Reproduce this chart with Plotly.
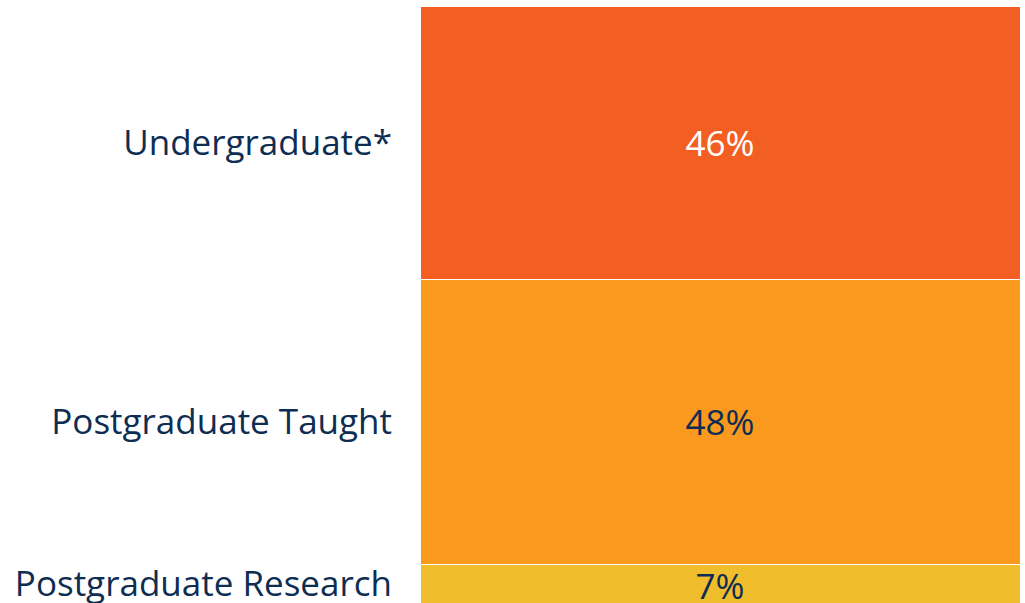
import plotly.graph_objects as go

categories = ["Postgraduate Research", "Postgraduate Taught", "Undergraduate*"]
values = [7, 48, 46]
colors = ["#F0BE2C", "#F99A1E", "#F35F23"]
text_colors = ["#0E2D52", "#0E2D52", "#FFFFFF"]

navy = "#0E2D52"
font_family = "Open Sans"
fsize = 35
y_range = [0.5, 101]

fig = go.Figure()
starts = []
acc = 0
for cat, v, c, tc in zip(categories, values, colors, text_colors):
    starts.append(acc)
    fig.add_trace(go.Bar(
        x=["all"], y=[v], name=cat,
        marker=dict(color=c, line=dict(color="#FFFFFF", width=1)),
        text=[f"{v}%"], textposition="inside", insidetextanchor="middle",
        textangle=0, constraintext="none",
        textfont=dict(family=font_family, size=fsize, color=tc),
        hoverinfo="skip",
    ))
    acc += v

tickvals = []
for s, v in zip(starts, values):
    lo = max(s, y_range[0])
    hi = min(s + v, y_range[1])
    tickvals.append((lo + hi) / 2)

fig.update_layout(
    barmode="stack", bargap=0, showlegend=False,
    width=1025, height=603,
    margin=dict(l=420, r=5, t=6, b=0),
    paper_bgcolor="white", plot_bgcolor="white",
    xaxis=dict(visible=False, range=[-0.5, 0.5]),
    yaxis=dict(range=y_range, tickvals=tickvals, ticktext=categories,
               showgrid=False, zeroline=False, showline=False,
               ticks="", ticklabelstandoff=27, automargin=False,
               ticklabeloverflow="allow",
               tickfont=dict(family=font_family, size=fsize, color=navy)),
)
fig.write_html("out.html",
               config={"displayModeBar": False, "staticPlot": True},
               post_script="document.body.style.margin='0';document.body.style.overflow='hidden';")
